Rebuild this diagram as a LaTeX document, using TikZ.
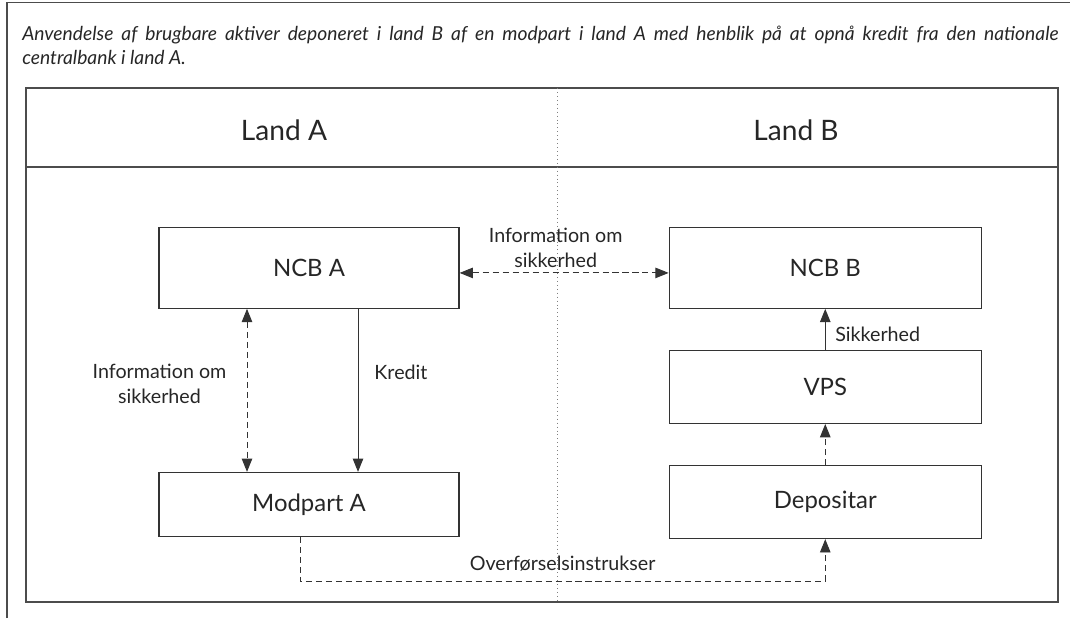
\documentclass[tikz,border=0pt]{standalone}
\usepackage{fontspec}
\setmainfont{Lato}
\usetikzlibrary{arrows.meta, positioning, calc}

\begin{document}
\begin{tikzpicture}[
    x=0.025cm, y=-0.025cm,
    >={Triangle[length=9.5pt, width=7.5pt]},
    box/.style={rectangle, draw=black!80, line width=0.8pt, minimum width=7.5cm, minimum height=2.0125cm, align=center, text=black!85, font=\fontsize{17}{19}\selectfont},
    widebox/.style={box, minimum width=7.8cm},
    land/.style={text=black!85, font=\fontsize{20}{22}\selectfont},
    arrow/.style={->, line width=0.7pt, black!80},
    dasharrow/.style={arrow, dash pattern=on 4.3pt off 2.8pt},
    note/.style={align=center, text=black!85, font=\fontsize{14}{17.8}\selectfont},
    panel/.style={draw=black!70, line width=1pt},
    divider/.style={draw=black!50, line width=0.7pt, dash pattern=on 0.7pt off 2.1pt}
]
\useasboundingbox (0,0) rectangle (1070,618);

% Frame and headings
\draw[panel] (7,618) -- (7,2.5) -- (1070,2.5);
\node[anchor=north west, inner sep=0pt, text width=25.9cm, align=justify, text=black!85, font=\itshape] (title) at (22,26)
    {\fontsize{13.7}{17}\selectfont\tolerance=9999 Anvendelse af brugbare aktiver deponeret i land B af en modpart i land A med henblik på at opnå kredit fra den nationale\linebreak centralbank i land A.\par};
\draw[panel] (26,88) rectangle (1058,602);
\draw[panel] (26,167) -- (1058,167);
\draw[divider] (557,88) -- (557,602);
\node[land] (landa) at (284,130) {Land A};
\node[land] (landb) at (796,130) {Land B};

% Land A
\node[box] (ncba) at (309,268) {NCB A};
\node[box, minimum height=1.6cm, below=4.075cm of ncba] (modpart) {Modpart A};

% Land B
\node[widebox, right=5.225cm of ncba] (ncbb) {NCB B};
\node[widebox, minimum height=1.825cm, below=1.025cm of ncbb] (vps) {VPS};
\node[widebox, minimum height=1.825cm, below=1.025cm of vps] (depot) {Depositar};

% Arrows
\draw[dasharrow, <->] ([yshift=-3.5pt]ncba.east) -- node[note, above, pos=0.46] (infoab) {Information om\\sikkerhed} ([yshift=-3.5pt]ncbb.west);
\draw[dasharrow, <->] ($(ncba.south)+(-62,0)$) -- node[note, left, pos=0.46, xshift=-11pt] (infoa) {Information om\\sikkerhed} ($(modpart.north)+(-62,0)$);
\draw[arrow] ($(ncba.south)+(49,0)$) -- node[note, right, pos=0.39, xshift=8pt] (kredit) {Kredit} ($(modpart.north)+(49,0)$);
\draw[arrow] (vps) -- node[note, right, pos=0.37, xshift=3.5pt] (sikkerhed) {Sikkerhed} (ncbb);
\draw[dasharrow] (depot) -- (vps);
\draw[dasharrow] ($(modpart.south)+(-9,0)$) -- ++(0,44) -| node[note, above, pos=0.25, yshift=3pt] (instr) {Overførselsinstrukser} (depot.south);

\end{tikzpicture}
\end{document}
